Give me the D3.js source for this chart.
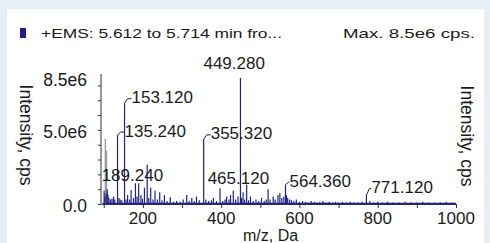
<!DOCTYPE html>
<html>
<head>
<meta charset="utf-8">
<script src="https://cdn.jsdelivr.net/npm/d3@7/dist/d3.min.js"></script>
<style>
  html, body { margin: 0; padding: 0; background: #e6eff6; }
  svg { display: block; }
  text { font-family: "Liberation Sans", Arial, Helvetica, sans-serif; fill: #1a1a1a; }
</style>
</head>
<body>
<svg id="chart" width="490" height="243"></svg>
<script>
/* ============================================================
   MASS SPECTRUM — +EMS stick plot
   ============================================================ */

// peaks: m/z and intensity (x 1e6 cps)
var peakMz = [101, 103, 106, 109, 111, 113, 117, 121, 125, 128,
    135.24, 139, 142, 146, 153.12, 157, 161, 166, 170, 176,
    181, 185, 189.24, 195, 199, 204, 211, 215, 220, 226,
    231, 237, 243, 249, 255, 262, 270, 278, 286, 295,
    303, 312, 318, 325, 331, 337, 344, 355.32, 361, 368,
    375, 380, 388, 397, 404, 410, 414, 420, 424, 431,
    437, 443, 449.28, 452, 456, 460, 465.12, 470, 475, 482,
    489, 496, 503, 510, 515, 520, 525, 533, 538, 545,
    550, 555, 560, 564.36, 567, 570, 575, 580, 586, 592,
    600, 608, 615, 622, 630, 638, 645, 652, 660, 668,
    676, 685, 692, 700, 710, 720, 730, 740, 750, 760,
    771.12, 780, 790, 800, 812, 825, 840, 855, 870, 885,
    900, 915, 930, 945, 960, 975, 990];
var peakInt = [0.9, 0.5, 0.7, 1.0, 0.6, 0.4, 0.3, 0.35, 0.5, 0.3,
    4.65, 0.4, 0.3, 0.25, 6.8, 0.3, 0.6, 0.3, 0.95, 0.4,
    1.4, 0.5, 1.4, 0.6, 0.35, 1.1, 2.65, 0.4, 1.1, 0.3,
    0.9, 0.3, 0.8, 0.25, 0.6, 0.2, 0.45, 0.15, 0.2, 0.15,
    0.3, 0.6, 0.2, 0.4, 0.2, 0.5, 0.25, 4.36, 0.3, 0.2,
    0.25, 0.4, 0.2, 1.06, 0.2, 0.3, 0.5, 0.3, 0.6, 0.9,
    0.3, 0.5, 8.5, 0.4, 0.8, 0.3, 1.3, 0.25, 0.5, 0.2,
    0.3, 0.2, 0.4, 0.2, 0.3, 1.0, 0.3, 0.5, 0.3, 0.6,
    0.75, 0.4, 0.5, 1.3, 0.6, 0.4, 0.3, 0.25, 0.2, 0.3,
    0.15, 0.2, 0.15, 0.1, 0.2, 0.15, 0.1, 0.15, 0.2, 0.1,
    0.15, 0.1, 0.15, 0.1, 0.15, 0.1, 0.15, 0.1, 0.1, 0.15,
    0.6, 0.2, 0.1, 0.15, 0.1, 0.15, 0.1, 0.1, 0.15, 0.1,
    0.1, 0.15, 0.1, 0.1, 0.1, 0.15, 0.1];

// the two faint grey sticks at the low end
var greyMz  = [104, 107];
var greyInt = [4.4, 3.6];

// annotated peaks
var labelMz   = [449.28, 153.12, 135.24, 189.24, 355.32, 465.12, 564.36, 771.12];
var labelText = ['449.280', '153.120', '135.240', '189.240', '355.320', '465.120', '564.360', '771.120'];

var xTicks = [100, 200, 300, 400, 500, 600, 700, 800, 900, 1000];
var xTickLabels = ['', '200', '', '400', '', '600', '', '800', '', '1000'];
var yTicks = [0, 1, 2, 3, 4, 5, 6, 7, 8];
var yLabelVals = [0, 5, 8.5];
var yLabelText = ['0.0', '5.0e6', '8.5e6'];

// layout: label offsets from the peak top (dx to left edge, dy to centre)
var labelLayout = {
    '449.280': { dx: -37, dy: -15, conn: false },
    '153.120': { dx: 7,   dy: -6,  conn: true },
    '135.240': { dx: 7,   dy: -4.5, conn: true },
    '189.240': { dx: -37, dy: -8,  conn: false },
    '355.320': { dx: 7,   dy: -6,  conn: true },
    '465.120': { dx: -39, dy: -7,  conn: false },
    '564.360': { dx: 4,   dy: -4,  conn: true },
    '771.120': { dx: 5,   dy: -8,  conn: true }
};

var NAVY = '#20208a';
var svg = d3.select('#chart');

// white panel
svg.append('rect').attr('x', 7).attr('y', 9).attr('width', 477).attr('height', 234).attr('fill', '#ffffff');

var x = d3.scaleLinear().domain([93, 1000]).range([101, 456]);
var y = d3.scaleLinear().domain([0, 8.5]).range([204, 78]);

// header
svg.append('rect').attr('x', 20).attr('y', 28).attr('width', 6).attr('height', 10).attr('fill', '#1e1e8c');
svg.append('text').attr('x', 41).attr('y', 37.8)
    .attr('font-size', 13).attr('textLength', 241).attr('lengthAdjust', 'spacingAndGlyphs')
    .text('+EMS: 5.612 to 5.714 min fro...');
svg.append('text').attr('x', 343).attr('y', 37.8)
    .attr('font-size', 13).attr('textLength', 132).attr('lengthAdjust', 'spacingAndGlyphs')
    .text('Max. 8.5e6 cps.');

// axes
var gx = svg.append('g').attr('transform', 'translate(0,' + y(0) + ')')
    .call(d3.axisBottom(x).tickValues(xTicks).tickSize(4).tickSizeOuter(0).tickFormat(''));
gx.selectAll('path, line').attr('stroke', '#333').attr('stroke-width', 1);

var gy = svg.append('g').attr('transform', 'translate(' + x(93) + ',0)')
    .call(d3.axisLeft(y).tickValues(yTicks).tickSize(3).tickSizeOuter(0).tickFormat(''));
gy.select('.domain').attr('d', 'M0,' + y(0) + 'V' + (y(8.5) - 4));
gy.selectAll('path, line').attr('stroke', '#333').attr('stroke-width', 1);

svg.selectAll('.xlab').data(xTicks).enter().append('text')
    .attr('class', 'xlab')
    .attr('x', function(d) { return x(d); })
    .attr('y', 223.5)
    .attr('text-anchor', 'middle')
    .attr('font-size', 17)
    .text(function(d, i) { return xTickLabels[i]; });

svg.selectAll('.ylab').data(yLabelVals).enter().append('text')
    .attr('class', 'ylab')
    .attr('x', 87)
    .attr('y', function(d) { return y(d) + 2; })
    .attr('dy', '0.35em')
    .attr('text-anchor', 'end')
    .attr('font-size', 17.5)
    .text(function(d, i) { return yLabelText[i]; });

svg.append('text').attr('x', 243).attr('y', 241)
    .attr('font-size', 16).text('m/z, Da');

[[26, 135], [467, 136]].forEach(function(p) {
    svg.append('text')
        .attr('transform', 'translate(' + p[0] + ',' + p[1] + ') rotate(90)')
        .attr('text-anchor', 'middle')
        .attr('dy', '0.35em')
        .attr('font-size', 17.5)
        .text('Intensity, cps');
});

// spectrum baseline
svg.append('line')
    .attr('x1', x(97)).attr('x2', x(1000))
    .attr('y1', y(0) - 0.5).attr('y2', y(0) - 0.5)
    .attr('stroke', NAVY).attr('stroke-width', 1.6);

// sticks
svg.selectAll('.grey').data(greyMz).enter().append('line')
    .attr('x1', function(d) { return x(d); }).attr('x2', function(d) { return x(d); })
    .attr('y1', y(0)).attr('y2', function(d, i) { return y(greyInt[i]); })
    .attr('stroke', '#9494ac').attr('stroke-width', 1.3);

svg.selectAll('.stick').data(peakMz).enter().append('line')
    .attr('x1', function(d) { return x(d); }).attr('x2', function(d) { return x(d); })
    .attr('y1', y(0)).attr('y2', function(d, i) { return y(peakInt[i]); })
    .attr('stroke', NAVY).attr('stroke-width', 1.2);

// annotations
labelMz.forEach(function(mz, i) {
    var idx = peakMz.indexOf(mz);
    var px = x(mz), py = y(peakInt[idx]);
    var L = labelLayout[labelText[i]];
    if (L.conn) {
        svg.append('polyline')
            .attr('points', [[px, py], [px + 3, py + L.dy + 1.5], [px + L.dx, py + L.dy + 1.5]].join(' '))
            .attr('fill', 'none').attr('stroke', '#222').attr('stroke-width', 1);
    }
    svg.append('text')
        .attr('x', px + L.dx)
        .attr('y', py + L.dy)
        .attr('dy', '0.35em')
        .attr('font-size', 17)
        .text(labelText[i]);
});
</script>
</body>
</html>
